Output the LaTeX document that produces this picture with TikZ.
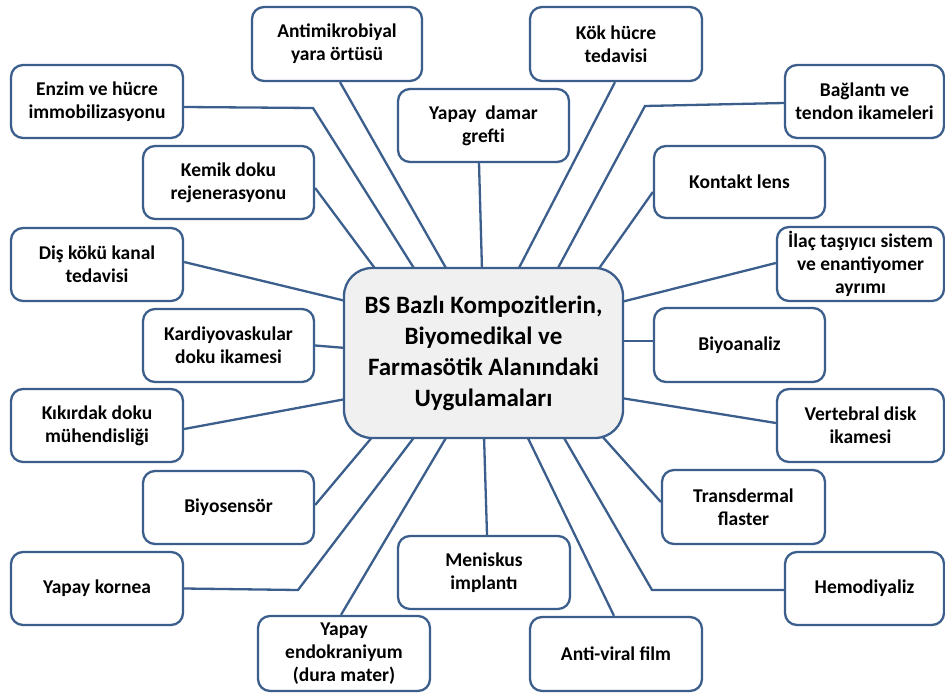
\documentclass[tikz,border=0pt]{standalone}
\usepackage{fontspec}
\setmainfont{Carlito}
\usetikzlibrary{backgrounds,calc}
\definecolor{bd}{HTML}{3B5E8C}
\definecolor{cfill}{HTML}{F0F0F0}
\begin{document}
\begin{tikzpicture}[x=1pt,y=-1pt,
  box/.style={draw=bd, line width=2.3pt, rounded corners=12pt, fill=white, align=center,
    font=\fontsize{19.5}{23}\selectfont\bfseries, inner sep=0pt, minimum width=172pt, minimum height=73pt},
  mainbox/.style={draw=bd, line width=2.3pt, rounded corners=28pt, fill=cfill, align=center,
    font=\fontsize{25}{31}\selectfont\bfseries, inner sep=0pt, minimum width=279pt, minimum height=170pt},
  conn/.style={draw=bd, line width=2.3pt}]
\useasboundingbox (0,0) rectangle (945,693);

\node[mainbox] (c) at (483.5,353) {BS Bazlı Kompozitlerin,\\Biyomedikal ve\\Farmasötik Alanındaki\\Uygulamaları};

\node[box, minimum width=170pt, minimum height=74pt] (antimik) at (337,44) {Antimikrobiyal\\yara örtüsü};
\node[box, minimum height=74pt] (kok) at (616,44) {Kök hücre\\tedavisi};
\node[box] (enzim) at (97,101.5) {Enzim ve hücre\\immobilizasyonu};
\node[box, minimum width=159pt] (baglanti) at (864.5,101.5) {Bağlantı ve\\tendon ikameleri};
\node[box, minimum width=171pt] (damar) at (483.5,125.5) {Yapay~ damar\\grefti};
\node[box, minimum width=171pt] (kemik) at (228.5,182.5) {Kemik doku\\rejenerasyonu};
\node[box, minimum width=171pt, minimum height=72pt] (kontakt) at (739.5,182) {Kontakt lens};
\node[box] (dis) at (97,264.5) {Diş kökü kanal\\tedavisi};
\node[box, minimum width=167pt, minimum height=74pt] (ilac) at (860.5,264) {İlaç taşıyıcı sistem\\ve enantiyomer\\ayrımı};
\node[box, minimum width=171pt] (kardio) at (228.5,345.5) {Kardiyovaskular\\doku ikamesi};
\node[box, minimum width=171pt, minimum height=74pt] (biyoanaliz) at (739.5,345) {Biyoanaliz};
\node[box] (kikirdak) at (97,425.5) {Kıkırdak doku\\mühendisliği};
\node[box, minimum width=167pt] (vertebral) at (860.5,425.5) {Vertebral disk\\ikamesi};
\node[box, minimum width=171pt] (biyosensor) at (228.5,507.5) {Biyosensör};
\node[box, minimum width=163pt, minimum height=74pt] (transd) at (743.5,507) {Transdermal\\flaster};
\node[box] (kornea) at (97,588.5) {Yapay kornea};
\node[box, minimum width=159pt] (hemo) at (864.5,588.5) {Hemodiyaliz};
\node[box] (meniskus) at (484,572.5) {Meniskus\\implantı};
\node[box, minimum height=75pt] (endok) at (344,653.5) {Yapay\\endokraniyum\\(dura mater)};
\node[box, minimum height=74pt] (antiviral) at (616,654) {Anti-viral film};

\coordinate (b1) at (313,108);
\coordinate (b2) at (645,106);
\coordinate (b3) at (652,590);
\coordinate (b4) at (298,590);

\begin{scope}[on background layer]
\fill[white] (0,0) rectangle (945,693);
\draw[conn] ([yshift=-5.5pt]kemik.east) -- ([xshift=-107.5pt,yshift=-3pt]c.north);
\draw[conn] ([yshift=-5.5pt]enzim.east) -- (b1) -- ([xshift=-68.5pt,yshift=-3pt]c.north);
\draw[conn] ([xshift=3pt]antimik.south) -- ([xshift=-36.5pt,yshift=-3pt]c.north);
\draw[conn] ([xshift=-4.5pt]damar.south) -- ([xshift=-1.5pt,yshift=-3pt]c.north);
\draw[conn] ([xshift=-1pt]kok.south) -- ([xshift=34.5pt,yshift=-3pt]c.north);
\draw[conn] ([yshift=-1.5pt]baglanti.west) -- (b2) -- ([xshift=73.5pt,yshift=-3pt]c.north);
\draw[conn] ([yshift=-10pt]kontakt.west) -- ([xshift=114.5pt,yshift=-3pt]c.north);
\draw[conn] ([yshift=1pt]ilac.west) -- ([xshift=-3pt,yshift=51pt]c.east);
\draw[conn] ([yshift=4pt]biyoanaliz.west) -- ([xshift=-3pt,yshift=12pt]c.east);
\draw[conn] ([yshift=2.5pt]vertebral.west) -- ([xshift=-3pt,yshift=-45pt]c.east);
\draw[conn] ([yshift=5pt]transd.west) -- ([xshift=118.5pt,yshift=3pt]c.south);
\draw[conn] ([yshift=-1.5pt]hemo.west) -- (b3) -- ([xshift=79.5pt,yshift=3pt]c.south);
\draw[conn] ([xshift=-2pt]antiviral.north) -- ([xshift=43.5pt,yshift=3pt]c.south);
\draw[conn] ([xshift=3pt]meniskus.north) -- ([xshift=0.5pt,yshift=3pt]c.south);
\draw[conn] ([xshift=-3pt]endok.north) -- ([xshift=-36.5pt,yshift=3pt]c.south);
\draw[conn] (kornea.east) -- (b4) -- ([xshift=-68.5pt,yshift=3pt]c.south);
\draw[conn] ([yshift=2.5pt]biyosensor.east) -- ([xshift=-110.5pt,yshift=3pt]c.south);
\draw[conn] ([yshift=-3.5pt]kikirdak.east) -- ([xshift=3pt,yshift=-46pt]c.west);
\draw[conn] (kardio.east) -- ([xshift=3pt,yshift=5pt]c.west);
\draw[conn] ([yshift=2.5pt]dis.east) -- ([xshift=3pt,yshift=52pt]c.west);
\end{scope}
\end{tikzpicture}
\end{document}
